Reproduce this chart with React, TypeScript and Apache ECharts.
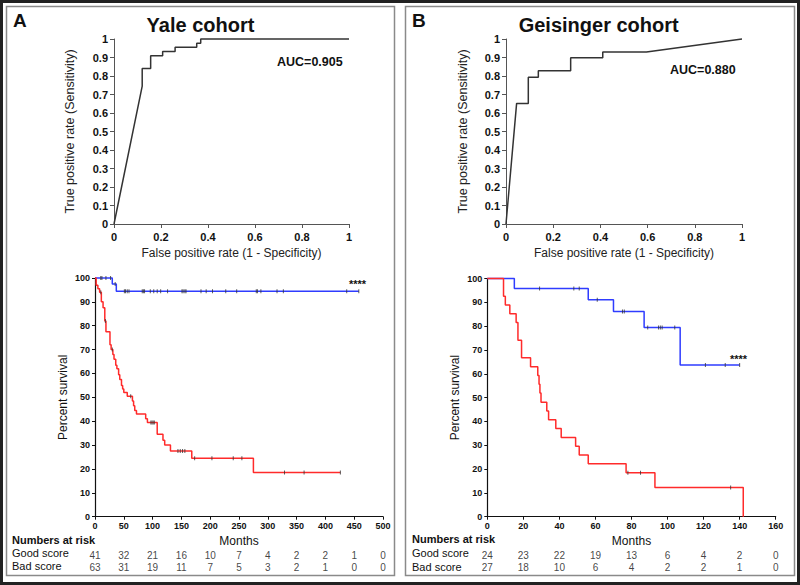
import React, { useEffect, useRef } from "react";
import * as echarts from "echarts";

// ROC curves
const rocAFpr = [0, 0.12, 0.12, 0.156, 0.156, 0.207, 0.207, 0.26, 0.26, 0.352, 0.352, 0.369, 0.369, 1];
const rocATpr = [0, 0.745, 0.84, 0.84, 0.91, 0.91, 0.932, 0.932, 0.955, 0.955, 0.977, 0.977, 1, 1];
const rocBFpr = [0, 0.045, 0.0945, 0.0945, 0.137, 0.137, 0.274, 0.274, 0.41, 0.41, 0.595, 1];
const rocBTpr = [0, 0.652, 0.652, 0.793, 0.793, 0.829, 0.829, 0.899, 0.899, 0.93, 0.93, 1];

// Kaplan-Meier, Yale
const goodATimes = [0, 30, 37, 458];
const goodASurv = [100, 97.5, 94.4, 94.4];
const goodACensor = [10, 12, 19, 27, 35, 51, 53, 56, 59, 82, 84, 86, 96, 102, 108, 114, 126, 151, 153, 156, 158, 184, 193, 204, 227, 246, 280, 282, 288, 316, 327, 437, 458];
const badATimes = [0, 2, 5, 8, 11, 14, 17, 19, 26, 28, 31, 33, 36, 38, 41, 43, 46, 48, 50, 56, 65, 67, 69, 72, 88, 91, 108, 118, 121, 131, 168, 275, 426];
const badASurv = [100, 97, 95.5, 94, 90, 87.5, 82, 77.5, 72, 70, 68, 66, 63.5, 62, 59.5, 57.5, 55, 53.5, 52, 50.5, 48.5, 46.5, 44.5, 43, 41, 39.5, 34.5, 32, 30, 27.5, 24.5, 18.5, 18.5];
const badACensor = [10, 18, 30, 62, 97, 99, 101, 103, 144, 148, 152, 156, 173, 203, 240, 255, 329, 363, 426];

// Kaplan-Meier, Geisinger
const goodBTimes = [0, 15, 56, 70, 87, 107, 140];
const goodBSurv = [100, 95.8, 91.1, 86.1, 79.4, 63.7, 63.7];
const goodBCensor = [29, 48, 51, 61, 75, 76, 89, 95, 96, 97, 104, 121, 132, 140];
const badBTimes = [0, 9, 10, 12.5, 16, 17, 19, 24, 28, 28.7, 29.2, 29.8, 33, 34, 38, 41, 49, 51, 56, 77, 93, 142];
const badBSurv = [100, 92.6, 88.9, 85.2, 81.5, 74.1, 66.7, 63, 59.3, 55.6, 51.9, 48.1, 44.4, 40.7, 37, 33.3, 29.6, 25.9, 22.2, 18.5, 12.3, 0];
const badBCensor = [78, 85, 135];

// Numbers at risk
const riskTicksA = [0, 50, 100, 150, 200, 250, 300, 350, 400, 450, 500];
const riskGoodA = [41, 32, 21, 16, 10, 7, 4, 2, 2, 1, 0];
const riskBadA = [63, 31, 19, 11, 7, 5, 3, 2, 1, 0, 0];
const riskTicksB = [0, 20, 40, 60, 80, 100, 120, 140, 160];
const riskGoodB = [24, 23, 22, 19, 13, 6, 4, 2, 0];
const riskBadB = [27, 18, 10, 6, 4, 2, 2, 1, 0];

const FONT = "'Liberation Sans', Arial, Helvetica, sans-serif";
const BLUE = "#2f3cff";
const RED = "#ff2b2b";

const stepAt = (times: number[], surv: number[], t: number) => {
  let v = surv[0];
  for (let i = 0; i < times.length; i++) if (times[i] <= t) v = surv[i];
  return v;
};

const pairs = (xs: number[], ys: number[]) => xs.map((x, i) => [x, ys[i]]);

function rocX(gi: number) {
  return {
    type: "value", gridIndex: gi, min: 0, max: 1, interval: 0.2,
    name: "False positive rate (1 - Specificity)", nameLocation: "middle", nameGap: 23,
    nameTextStyle: { fontFamily: FONT, fontSize: 12, color: "#222" },
    axisLine: { lineStyle: { color: "#555", width: 1 } },
    axisTick: { length: 4, lineStyle: { color: "#555" } },
    axisLabel: { fontFamily: FONT, fontSize: 11, fontWeight: "bold", color: "#111", margin: 7,
      formatter: (v: number) => String(+v.toFixed(1)) },
    splitLine: { show: false },
  };
}
function rocY(gi: number, gap: number) {
  return {
    type: "value", gridIndex: gi, min: 0, max: 1, interval: 0.1,
    name: "True positive rate (Sensitivity)", nameLocation: "middle", nameGap: gap,
    nameTextStyle: { fontFamily: FONT, fontSize: 12.5, color: "#222" },
    axisLine: { show: true, lineStyle: { color: "#555", width: 1 } },
    axisTick: { show: true, length: 4, lineStyle: { color: "#555" } },
    axisLabel: { fontFamily: FONT, fontSize: 11, fontWeight: "bold", color: "#111", margin: 6,
      formatter: (v: number) => String(+v.toFixed(1)) },
    splitLine: { show: false },
  };
}
function kmX(gi: number, max: number, interval: number) {
  return {
    type: "value", gridIndex: gi, min: 0, max, interval,
    name: "Months", nameLocation: "middle", nameGap: 18,
    nameTextStyle: { fontFamily: FONT, fontSize: 12, color: "#111" },
    axisLine: { lineStyle: { color: "#111", width: 1.2 } },
    axisTick: { length: 3, lineStyle: { color: "#111" } },
    axisLabel: { fontFamily: FONT, fontSize: 9, fontWeight: "bold", color: "#111", margin: 5 },
    splitLine: { show: false },
  };
}
function kmY(gi: number) {
  return {
    type: "value", gridIndex: gi, min: 0, max: 100, interval: 10,
    name: "Percent survival", nameLocation: "middle", nameGap: 26,
    nameTextStyle: { fontFamily: FONT, fontSize: 12, color: "#111" },
    axisLine: { show: true, lineStyle: { color: "#111", width: 1.2 } },
    axisTick: { show: true, length: 3, lineStyle: { color: "#111" } },
    axisLabel: { fontFamily: FONT, fontSize: 9, fontWeight: "bold", color: "#111", margin: 5 },
    splitLine: { show: false },
  };
}
function tableX(gi: number, max: number) {
  return { type: "value", gridIndex: gi, min: 0, max, show: false };
}
function tableY(gi: number) {
  return { type: "category", gridIndex: gi, data: ["Bad score", "Good score"], show: false };
}

function kmLine(axis: number, times: number[], surv: number[], color: string) {
  return {
    type: "line", xAxisIndex: axis, yAxisIndex: axis, step: "end", symbol: "none", clip: false,
    lineStyle: { color, width: 1.5 }, data: pairs(times, surv), z: 3,
  };
}
function censor(axis: number, times: number[], surv: number[], cens: number[]) {
  return {
    type: "scatter", xAxisIndex: axis, yAxisIndex: axis, symbol: "rect", symbolSize: [1, 4], clip: false,
    itemStyle: { color: "#333" }, data: cens.map((t) => [t, stepAt(times, surv, t)]), z: 4,
  };
}
function riskRow(axis: number, ticks: number[], vals: number[], row: string) {
  return {
    type: "scatter", xAxisIndex: axis, yAxisIndex: axis, symbolSize: 1, clip: false,
    itemStyle: { color: "rgba(0,0,0,0)" },
    label: { show: true, position: "inside", fontFamily: FONT, fontSize: 10, color: "#111",
      formatter: (p: any) => String(p.value[2]) },
    data: ticks.map((t, i) => [t, row, vals[i]]),
  };
}

function txt(text: string, x: number, y: number, size: number, bold: boolean, align = "left") {
  return {
    type: "text", x, y, z: 10,
    style: { text, fill: "#111", font: `${bold ? "bold " : ""}${size}px ${FONT}`, align, verticalAlign: "middle" },
  };
}

export default function App() {
  const ref = useRef<HTMLDivElement>(null);
  useEffect(() => {
    if (!ref.current) return;
    const chart = echarts.init(ref.current, undefined, { renderer: "svg" });
    chart.setOption({
      animation: false,
      backgroundColor: "#fff",
      grid: [
        { left: 114, top: 39, width: 235, height: 185 },
        { left: 506, top: 39, width: 236, height: 185 },
        { left: 95, top: 278, width: 288, height: 238.7 },
        { left: 487.3, top: 278.5, width: 288.4, height: 238.2 },
        { left: 95, top: 550, width: 288, height: 23 },
        { left: 487.3, top: 550, width: 288.4, height: 23 },
      ],
      xAxis: [rocX(0), rocX(1), kmX(2, 500, 50), kmX(3, 160, 20), tableX(4, 500), tableX(5, 160)],
      yAxis: [rocY(0, 37.5), rocY(1, 36.5), kmY(2), kmY(3), tableY(4), tableY(5)],
      series: [
        { type: "line", xAxisIndex: 0, yAxisIndex: 0, symbol: "none", clip: false,
          lineStyle: { color: "#333", width: 1.5 }, data: pairs(rocAFpr, rocATpr) },
        { type: "line", xAxisIndex: 1, yAxisIndex: 1, symbol: "none", clip: false,
          lineStyle: { color: "#333", width: 1.5 }, data: pairs(rocBFpr, rocBTpr) },
        kmLine(2, goodATimes, goodASurv, BLUE),
        kmLine(2, badATimes, badASurv, RED),
        censor(2, goodATimes, goodASurv, goodACensor),
        censor(2, badATimes, badASurv, badACensor),
        kmLine(3, goodBTimes, goodBSurv, BLUE),
        kmLine(3, badBTimes, badBSurv, RED),
        censor(3, goodBTimes, goodBSurv, goodBCensor),
        censor(3, badBTimes, badBSurv, badBCensor),
        riskRow(4, riskTicksA, riskGoodA, "Good score"),
        riskRow(4, riskTicksA, riskBadA, "Bad score"),
        riskRow(5, riskTicksB, riskGoodB, "Good score"),
        riskRow(5, riskTicksB, riskBadB, "Bad score"),
      ],
      graphic: [
        { type: "rect", shape: { x: 1.5, y: 1.5, width: 797, height: 582 }, style: { fill: "none", stroke: "#222", lineWidth: 3 } },
        { type: "rect", shape: { x: 6.5, y: 6.5, width: 388, height: 569 }, style: { fill: "none", stroke: "#8a8a8a", lineWidth: 1.5 } },
        { type: "rect", shape: { x: 405.5, y: 6.5, width: 389, height: 569 }, style: { fill: "none", stroke: "#8a8a8a", lineWidth: 1.5 } },
        txt("A", 13, 20, 19, true),
        txt("B", 412, 20, 19, true),
        txt("Yale cohort", 200.5, 25.3, 20, true, "center"),
        txt("Geisinger cohort", 598.7, 25.3, 20, true, "center"),
        txt("AUC=0.905", 277, 62, 12.5, true),
        txt("AUC=0.880", 670, 70, 12.5, true),
        txt("****", 357.5, 283.5, 11, true, "center"),
        txt("****", 738.5, 358.5, 11, true, "center"),
        txt("Numbers at risk", 12, 540, 11, true),
        txt("Good score", 12, 552.5, 11, false),
        txt("Bad score", 12, 566, 11, false),
        txt("Numbers at risk", 412, 539, 11, true),
        txt("Good score", 412, 553.3, 11, false),
        txt("Bad score", 412, 567.3, 11, false),
      ],
    });
    return () => chart.dispose();
  }, []);
  return <div ref={ref} style={{ position: "absolute", left: 0, top: 0, width: 800, height: 585 }} />;
}
